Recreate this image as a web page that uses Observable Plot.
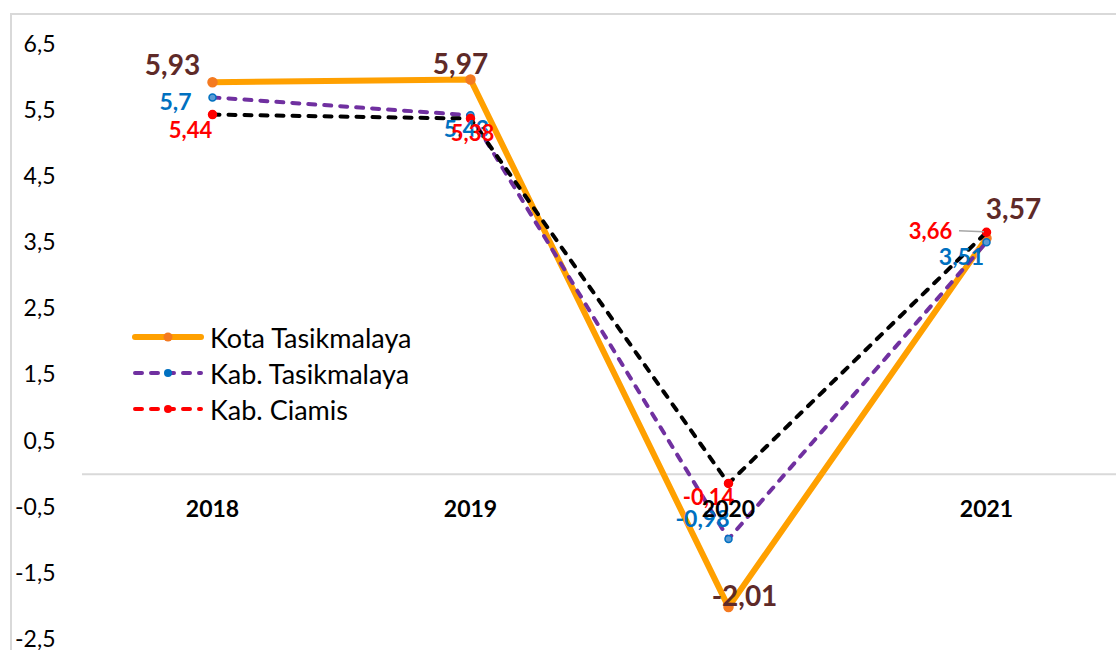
<!DOCTYPE html>
<html>
<head>
<meta charset="utf-8">
<script src="https://cdn.jsdelivr.net/npm/d3@7"></script>
<script src="https://cdn.jsdelivr.net/npm/@observablehq/plot@0.6"></script>
<style>
  html, body { margin: 0; padding: 0; background: #fff; overflow: hidden; }
  #wrap { position: relative; width: 1116px; height: 650px; overflow: hidden; font-family: Lato, "Open Sans", sans-serif; }
  #border { position: absolute; left: 10px; top: 13px; width: 1300px; height: 800px; border: 2px solid #d9d9d9; pointer-events: none; }
  #chart { position: absolute; left: 0; top: 0; }
  .lg { position: absolute; left: 132px; height: 30px; display: flex; align-items: center; font-size: 27px; color: #000; }
  .lg svg { margin-right: 6px; }
</style>
</head>
<body>
<div id="wrap">
  <div id="chart"></div>
  <div id="border"></div>
  <div id="legend"></div>
</div>
<script>
// ---- data ----
const years = ["2018", "2019", "2020", "2021"];
const seriesNames = ["Kota Tasikmalaya", "Kab. Tasikmalaya", "Kab. Ciamis"];
const kotaTasikmalaya = [5.93, 5.97, -2.01, 3.57];
const kabTasikmalaya = [5.70, 5.43, -0.98, 3.51];
const kabCiamis = [5.44, 5.38, -0.14, 3.66];
const yTicks = [-2.5, -1.5, -0.5, 0.5, 1.5, 2.5, 3.5, 4.5, 5.5, 6.5];

// ---- styles / layout ----
const fmt = d => String(d).replace(".", ",");
const styles = [
  { line: "#ffa000", width: 6, dash: null, dot: "#f47a20", dotStroke: "#f47a20", r: 4.5, label: "#5e2a28", labelSize: 28,
    offsets: [[-40, -16], [-10, -15], [16, -10], [27, -28]] },
  { line: "#7030a0", width: 4, dash: "7,9", dot: "#5b9bd5", dotStroke: "#0070c0", r: 3.5, label: "#0070c0", labelSize: 23,
    offsets: [[-37, 5], [-4, 14], [-26, -19], [-25, 15]] },
  { line: "#000000", width: 4, dash: "7,9", dot: "#ff0000", dotStroke: "#ff0000", r: 4, label: "#ff0000", labelSize: 22,
    offsets: [[-22, 16], [2, 15], [-20, 14], [-56, 0]] }
];
const legendLine = ["#ffa000", "#7030a0", "#ff0000"];
const legendDot = ["#f47a20", "#0070c0", "#ff0000"];

const allValues = [kotaTasikmalaya, kabTasikmalaya, kabCiamis];
const table = [];
allValues.forEach((vals, s) => vals.forEach((v, i) => table.push({ series: seriesNames[s], year: years[i], value: v, i })));

const marks = [
  Plot.ruleY([0], { stroke: "#d9d9d9", strokeWidth: 2 }),
  Plot.axisY(yTicks, { tickSize: 0, tickPadding: 27, tickFormat: fmt, fontSize: 23, fill: "#000", label: null })
];

seriesNames.forEach((name, s) => {
  const st = styles[s];
  const rows = table.filter(d => d.series === name);
  marks.push(Plot.line(rows, { x: "year", y: "value", stroke: st.line, strokeWidth: st.width,
    strokeDasharray: st.dash, strokeLinecap: st.dash ? "round" : "butt", strokeLinejoin: "miter" }));
  marks.push(Plot.dot(rows, { x: "year", y: "value", r: st.r, fill: st.dot, stroke: st.dotStroke, strokeWidth: 1.5 }));
});

// leader line for the 3,66 label
marks.push((index, scales) => {
  const x = scales.x(years[3]);
  const y = scales.y(kabCiamis[3]);
  const ns = "http://www.w3.org/2000/svg";
  const l = document.createElementNS(ns, "line");
  l.setAttribute("x1", x - 27); l.setAttribute("x2", x - 2);
  l.setAttribute("y1", y - 1); l.setAttribute("y2", y);
  l.setAttribute("stroke", "#a6a6a6"); l.setAttribute("stroke-width", 1.5);
  return l;
});

seriesNames.forEach((name, s) => {
  const st = styles[s];
  const rows = table.filter(d => d.series === name);
  rows.forEach(r => {
    const [dx, dy] = st.offsets[r.i];
    marks.push(Plot.text([r], { x: "year", y: "value", text: d => fmt(d.value), dx, dy,
      fill: st.label, fontSize: st.labelSize, fontWeight: "bold", textAnchor: "middle" }));
  });
});

// category labels sit just below the zero line
marks.push(Plot.text(years, { x: d => d, y: () => 0, dy: 35, fontSize: 23, fontWeight: "bold", fill: "#000" }));

const chart = Plot.plot({
  width: 1116,
  height: 650,
  marginLeft: 82,
  marginRight: 0,
  marginTop: 44,
  marginBottom: 11,
  style: { fontFamily: "Lato, 'Open Sans', sans-serif", background: "transparent", overflow: "visible" },
  x: { type: "point", domain: years, padding: 0.5, axis: null },
  y: { domain: [-2.5, 6.5], axis: null },
  marks
});
document.getElementById("chart").appendChild(chart);

// legend
const legendTops = [322, 358, 394];
const legend = document.getElementById("legend");
seriesNames.forEach((name, s) => {
  const st = styles[s];
  const row = document.createElement("div");
  row.className = "lg";
  row.style.top = legendTops[s] + "px";
  const dash = st.dash ? `stroke-dasharray="7,9" stroke-linecap="round"` : `stroke-linecap="round"`;
  row.innerHTML = `<svg width="72" height="20"><line x1="3" x2="69" y1="10" y2="10" stroke="${legendLine[s]}" stroke-width="${s === 0 ? 6 : 4}" ${dash}/>` +
    `<circle cx="36" cy="10" r="${s === 0 ? 4.5 : 4}" fill="${legendDot[s]}"/></svg><span>${name}</span>`;
  legend.appendChild(row);
});
</script>
</body>
</html>
